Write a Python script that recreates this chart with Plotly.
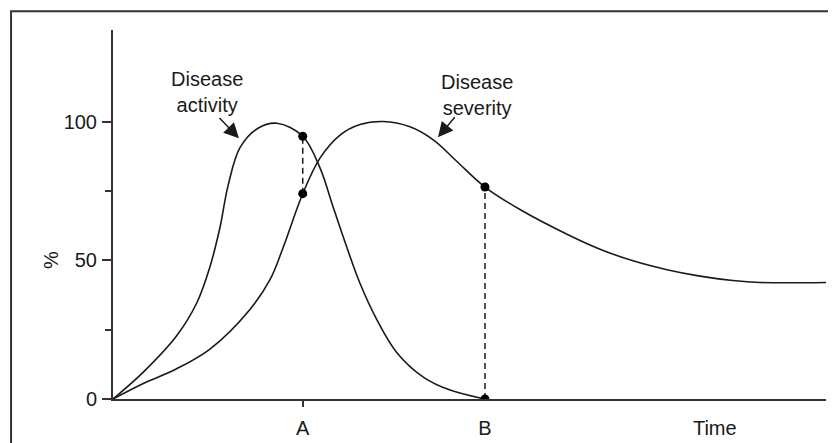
import plotly.graph_objects as go

# ---- data (time in arbitrary units 0..100, values in %) ----
activity_t = [0, 4.25, 8.93, 11.74, 13.60, 15.01, 16.13, 17.81, 20.34, 23.0, 26.61,
              29.03, 30.90, 32.78, 34.64, 36.98, 39.79, 43.52, 47.27, 52.17]
activity = [0, 9.7, 22.8, 34.6, 47.7, 61.9, 76.8, 90.6, 97.6, 99.4, 94.7,
            83.3, 69.0, 54.8, 41.7, 28.7, 16.8, 7.9, 3.2, 0]

severity_t = [0, 4.25, 8.93, 13.60, 19.21, 22.02, 23.89, 26.61, 29.03, 31.84, 34.64,
              37.91, 41.65, 44.92, 48.20, 52.17, 57.08, 63.67, 68.30, 72.93, 77.70,
              82.33, 86.96, 90.74, 100]
severity = [0, 5.6, 10.9, 18.0, 32.3, 43.0, 54.8, 74.0, 86.8, 95.1, 98.9,
            100.0, 98.1, 93.4, 85.7, 76.4, 68.3, 59.4, 54.0, 49.8, 46.6,
            44.3, 42.7, 42.0, 42.0]

A_T = 26.61
B_T = 52.17
TIME_T = 84.4
A_ACT, A_SEV = 94.7, 74.0
B_SEV, B_ACT = 76.4, 0.0

x_tick_vals = [A_T, B_T, TIME_T]
x_tick_text = ["A", "B", "Time"]
y_tick_vals = [0, 50, 100]
y_minor_vals = [25, 75]

FONT = "Liberation Sans, Arial, sans-serif"
INK = "#1a1a1a"
AX = "#333333"
FS = 20

fig = go.Figure()

# dashed connectors
fig.add_trace(go.Scatter(x=[A_T, A_T], y=[A_SEV, A_ACT], mode="lines",
                         line=dict(color=INK, width=1.5, dash="6px,4px"), hoverinfo="skip"))
fig.add_trace(go.Scatter(x=[B_T, B_T], y=[B_ACT, B_SEV], mode="lines",
                         line=dict(color=INK, width=1.5, dash="6px,4px"), hoverinfo="skip"))

fig.add_trace(go.Scatter(x=activity_t, y=activity, mode="lines", name="Disease activity",
                         line=dict(color=INK, width=1.6, shape="spline", smoothing=1.0)))
fig.add_trace(go.Scatter(x=severity_t, y=severity, mode="lines", name="Disease severity",
                         line=dict(color=INK, width=1.6, shape="spline", smoothing=1.0)))

# dots
fig.add_trace(go.Scatter(x=[A_T, A_T, B_T, B_T], y=[A_ACT, A_SEV, B_SEV, B_ACT], mode="markers",
                         marker=dict(color="black", size=9), hoverinfo="skip"))

annotations = [
    dict(x=13.2, y=110.8, xref="x", yref="y", text="Disease<br>activity", showarrow=False,
         font=dict(family=FONT, size=FS, color=INK), align="center"),
    dict(x=51.05, y=109.4, xref="x", yref="y", text="Disease<br>severity", showarrow=False,
         font=dict(family=FONT, size=FS, color=INK), align="center"),
    dict(x=17.67, y=94.0, ax=14.73, ay=101.8, xref="x", yref="y", axref="x", ayref="y",
         text="", showarrow=True, arrowhead=2, arrowsize=2.0, arrowwidth=1.5, arrowcolor=INK,
         standoff=0),
    dict(x=45.58, y=94.3, ax=48.1, ay=102.1, xref="x", yref="y", axref="x", ayref="y",
         text="", showarrow=True, arrowhead=2, arrowsize=2.0, arrowwidth=1.5, arrowcolor=INK,
         standoff=0),
    dict(x=-0.105, y=0.377, xref="paper", yref="paper", text="%", showarrow=False,
         textangle=-90, font=dict(family=FONT, size=FS, color=INK)),
]

# page body has an 8px margin, so the figure is laid out 8px up/left of the target
fig.update_layout(
    width=836, height=443, autosize=False,
    margin=dict(l=105, r=18, t=22, b=47),
    paper_bgcolor="white", plot_bgcolor="white",
    showlegend=False,
    font=dict(family=FONT, size=FS, color=INK),
    annotations=annotations,
    shapes=[dict(type="rect", xref="paper", yref="paper",
                 x0=-0.143, x1=1.05, y0=-0.25, y1=1.0508,
                 line=dict(color=AX, width=2), fillcolor="rgba(0,0,0,0)", layer="below")],
    xaxis=dict(range=[0, 100], showline=True, linecolor=AX, linewidth=2,
               showgrid=False, zeroline=False, ticks="", tickvals=x_tick_vals,
               ticktext=x_tick_text, tickfont=dict(family=FONT, size=FS, color=INK),
               ticklabelstandoff=10,
               minor=dict(tickvals=[A_T], ticks="outside", ticklen=6, tickwidth=1.5,
                          tickcolor=AX, showgrid=False)),
    yaxis=dict(range=[0, 133], showline=True, linecolor=AX, linewidth=2,
               showgrid=False, zeroline=False, ticks="outside", ticklen=9, tickwidth=1.5,
               tickcolor=AX, tickvals=y_tick_vals,
               tickfont=dict(family=FONT, size=FS, color=INK), ticklabelstandoff=1,
               minor=dict(tickvals=y_minor_vals, ticks="outside", ticklen=6, tickwidth=1.5,
                          tickcolor=AX, showgrid=False)),
)

fig.write_html("out.html")
